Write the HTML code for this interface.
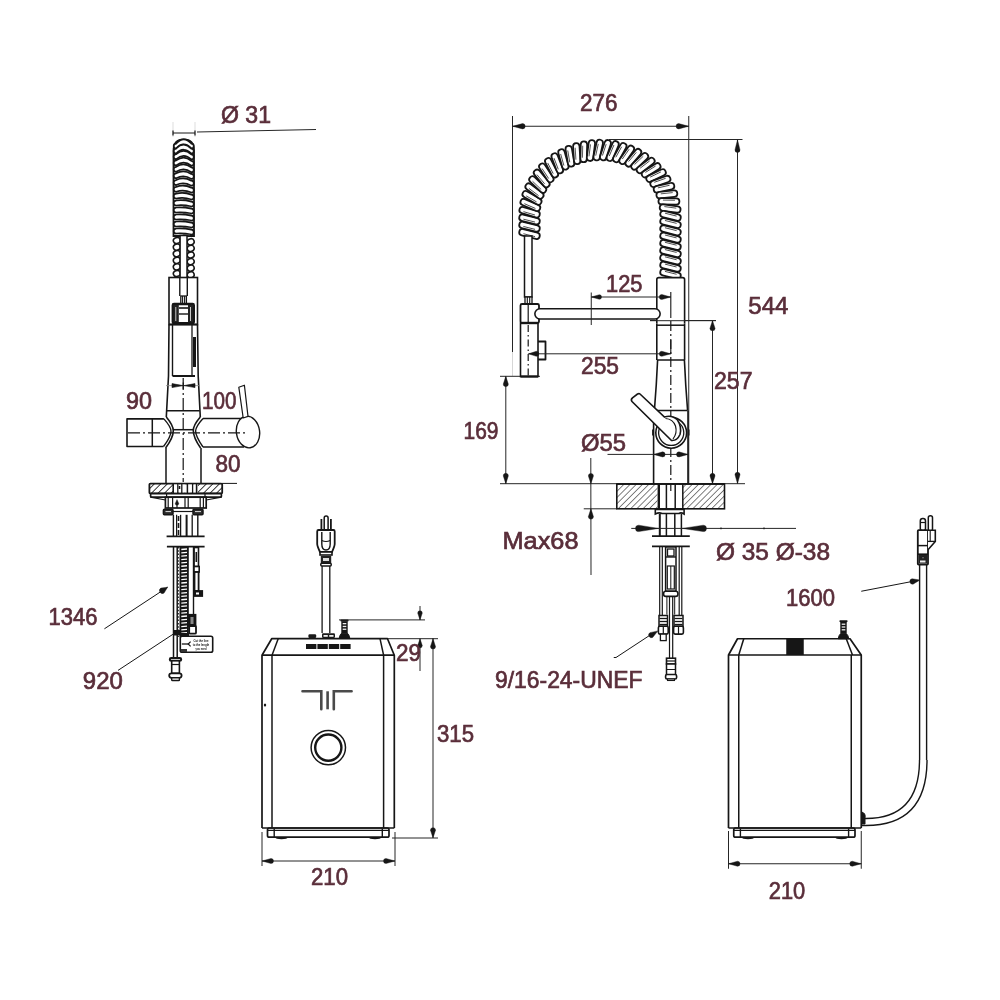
<!DOCTYPE html>
<html><head><meta charset="utf-8"><style>
html,body{margin:0;padding:0;background:#fff;width:1000px;height:1000px;overflow:hidden}
svg{display:block;will-change:transform}
text{font-family:"Liberation Sans",sans-serif}
</style></head><body>
<svg width="1000" height="1000" viewBox="0 0 1000 1000">
<rect width="1000" height="1000" fill="#fff"/>
<line x1="173" y1="122" x2="173" y2="137" stroke="#bbb" stroke-width="0.5" />
<line x1="195" y1="122" x2="195" y2="137" stroke="#bbb" stroke-width="0.5" />
<line x1="173" y1="133" x2="195" y2="133" stroke="#161616" stroke-width="1.0" />
<line x1="173" y1="130.5" x2="173" y2="135.5" stroke="#161616" stroke-width="1.2" />
<line x1="195" y1="130.5" x2="195" y2="135.5" stroke="#161616" stroke-width="1.2" />
<line x1="197" y1="132" x2="316" y2="129.5" stroke="#262626" stroke-width="1.0" />
<text x="221" y="123" font-size="24.5" fill="#5a2e3a" stroke="#5a2e3a" stroke-width="0.7" text-anchor="start" textLength="50" lengthAdjust="spacingAndGlyphs">Ø 31</text>
<path d="M173.5,236 L173.5,151 Q173.5,139.5 183.75,139.5 Q194,139.5 194,151 L194,236 Z" stroke="#161616" stroke-width="1.8" fill="#fff" />
<path d="M174.5,150 Q174.5,140.5 183.75,140.5 Q193,140.5 193,150" stroke="#161616" stroke-width="2.6" fill="none" />
<path d="M176.20,143.50 Q183.75,135.10 191.30,143.50 A2.5,2.5 0 0 1 191.30,148.50 Q183.75,140.10 176.20,148.50 A2.5,2.5 0 0 1 176.20,143.50 Z" stroke="#161616" stroke-width="1.75" fill="#fff" />
<path d="M176.20,148.50 Q183.75,140.94 191.30,148.62 A2.5,2.5 0 0 1 191.30,153.62 Q183.75,145.94 176.20,153.50 A2.5,2.5 0 0 1 176.20,148.50 Z" stroke="#161616" stroke-width="1.75" fill="#fff" />
<path d="M176.20,154.20 Q183.75,147.48 191.30,154.44 A2.5,2.5 0 0 1 191.30,159.44 Q183.75,152.48 176.20,159.20 A2.5,2.5 0 0 1 176.20,154.20 Z" stroke="#161616" stroke-width="1.75" fill="#fff" />
<path d="M176.20,160.40 Q183.75,154.52 191.30,160.76 A2.5,2.5 0 0 1 191.30,165.76 Q183.75,159.52 176.20,165.40 A2.5,2.5 0 0 1 176.20,160.40 Z" stroke="#161616" stroke-width="1.75" fill="#fff" />
<path d="M176.20,166.80 Q183.75,161.76 191.30,167.28 A2.5,2.5 0 0 1 191.30,172.28 Q183.75,166.76 176.20,171.80 A2.5,2.5 0 0 1 176.20,166.80 Z" stroke="#161616" stroke-width="1.75" fill="#fff" />
<path d="M176.20,173.30 Q183.75,169.10 191.30,173.90 A2.5,2.5 0 0 1 191.30,178.90 Q183.75,174.10 176.20,178.30 A2.5,2.5 0 0 1 176.20,173.30 Z" stroke="#161616" stroke-width="1.75" fill="#fff" />
<line x1="182.75" y1="178.04" x2="190" y2="179.27" stroke="#555" stroke-width="1.0" />
<path d="M176.20,180.00 Q183.75,176.64 191.30,180.72 A2.5,2.5 0 0 1 191.30,185.72 Q183.75,181.64 176.20,185.00 A2.5,2.5 0 0 1 176.20,180.00 Z" stroke="#161616" stroke-width="1.75" fill="#fff" />
<line x1="182.75" y1="184.99" x2="190" y2="186.1" stroke="#555" stroke-width="1.0" />
<path d="M176.20,186.80 Q183.75,184.28 191.30,187.64 A2.5,2.5 0 0 1 191.30,192.64 Q183.75,189.28 176.20,191.80 A2.5,2.5 0 0 1 176.20,186.80 Z" stroke="#161616" stroke-width="1.75" fill="#fff" />
<line x1="182.75" y1="192.04" x2="190" y2="193.02" stroke="#555" stroke-width="1.0" />
<path d="M176.20,193.60 Q183.75,191.92 191.30,194.56 A2.5,2.5 0 0 1 191.30,199.56 Q183.75,196.92 176.20,198.60 A2.5,2.5 0 0 1 176.20,193.60 Z" stroke="#161616" stroke-width="1.75" fill="#fff" />
<line x1="182.75" y1="199.1" x2="190" y2="199.95" stroke="#555" stroke-width="1.0" />
<path d="M176.20,200.50 Q183.75,199.66 191.30,201.58 A2.5,2.5 0 0 1 191.30,206.58 Q183.75,204.66 176.20,205.50 A2.5,2.5 0 0 1 176.20,200.50 Z" stroke="#161616" stroke-width="1.75" fill="#fff" />
<line x1="182.75" y1="206.25" x2="190" y2="206.97" stroke="#555" stroke-width="1.0" />
<path d="M176.20,207.50 Q183.75,206.90 191.30,208.70 A2.5,2.5 0 0 1 191.30,213.70 Q183.75,211.90 176.20,212.50 A2.5,2.5 0 0 1 176.20,207.50 Z" stroke="#161616" stroke-width="1.75" fill="#fff" />
<line x1="182.75" y1="213.32" x2="190" y2="214.01" stroke="#555" stroke-width="1.0" />
<path d="M176.20,214.50 Q183.75,213.90 191.30,215.70 A2.5,2.5 0 0 1 191.30,220.70 Q183.75,218.90 176.20,219.50 A2.5,2.5 0 0 1 176.20,214.50 Z" stroke="#161616" stroke-width="1.75" fill="#fff" />
<line x1="182.75" y1="220.32" x2="190" y2="221.01" stroke="#555" stroke-width="1.0" />
<path d="M176.20,221.50 Q183.75,220.90 191.30,222.70 A2.5,2.5 0 0 1 191.30,227.70 Q183.75,225.90 176.20,226.50 A2.5,2.5 0 0 1 176.20,221.50 Z" stroke="#161616" stroke-width="1.75" fill="#fff" />
<line x1="182.75" y1="227.32" x2="190" y2="228.01" stroke="#555" stroke-width="1.0" />
<path d="M176.20,228.50 Q183.75,227.90 191.30,229.70 A2.5,2.5 0 0 1 191.30,234.70 Q183.75,232.90 176.20,233.50 A2.5,2.5 0 0 1 176.20,228.50 Z" stroke="#161616" stroke-width="1.75" fill="#fff" />
<line x1="182.75" y1="234.32" x2="190" y2="235.01" stroke="#555" stroke-width="1.0" />
<ellipse cx="176.8" cy="240.5" rx="3.5" ry="3" stroke="#161616" stroke-width="1.6" fill="#fff" transform="rotate(-18 176.8 240.5)"/>
<ellipse cx="176.8" cy="247.1" rx="3.5" ry="3" stroke="#161616" stroke-width="1.6" fill="#fff" transform="rotate(-18 176.8 247.1)"/>
<ellipse cx="176.8" cy="253.7" rx="3.5" ry="3" stroke="#161616" stroke-width="1.6" fill="#fff" transform="rotate(-18 176.8 253.7)"/>
<ellipse cx="176.8" cy="260.3" rx="3.5" ry="3" stroke="#161616" stroke-width="1.6" fill="#fff" transform="rotate(-18 176.8 260.3)"/>
<ellipse cx="176.8" cy="266.9" rx="3.5" ry="3" stroke="#161616" stroke-width="1.6" fill="#fff" transform="rotate(-18 176.8 266.9)"/>
<ellipse cx="176.8" cy="273.5" rx="3.5" ry="3" stroke="#161616" stroke-width="1.6" fill="#fff" transform="rotate(-18 176.8 273.5)"/>
<ellipse cx="190.7" cy="241.8" rx="3.5" ry="3" stroke="#161616" stroke-width="1.6" fill="#fff" transform="rotate(-18 190.7 241.8)"/>
<ellipse cx="190.7" cy="248.4" rx="3.5" ry="3" stroke="#161616" stroke-width="1.6" fill="#fff" transform="rotate(-18 190.7 248.4)"/>
<ellipse cx="190.7" cy="255" rx="3.5" ry="3" stroke="#161616" stroke-width="1.6" fill="#fff" transform="rotate(-18 190.7 255)"/>
<ellipse cx="190.7" cy="261.6" rx="3.5" ry="3" stroke="#161616" stroke-width="1.6" fill="#fff" transform="rotate(-18 190.7 261.6)"/>
<ellipse cx="190.7" cy="268.2" rx="3.5" ry="3" stroke="#161616" stroke-width="1.6" fill="#fff" transform="rotate(-18 190.7 268.2)"/>
<ellipse cx="190.7" cy="274.8" rx="3.5" ry="3" stroke="#161616" stroke-width="1.6" fill="#fff" transform="rotate(-18 190.7 274.8)"/>
<rect x="180.1" y="235.5" width="6.9" height="60.5" rx="0" stroke="#161616" stroke-width="1.5" fill="#fff" />
<rect x="169" y="277.5" width="28.5" height="47" rx="0" stroke="#161616" stroke-width="1.6" fill="#fff" />
<line x1="179.8" y1="277" x2="179.8" y2="296" stroke="#161616" stroke-width="1.4" />
<line x1="187.3" y1="277" x2="187.3" y2="296" stroke="#161616" stroke-width="1.4" />
<rect x="180.8" y="296" width="5.6" height="8" rx="0" stroke="#161616" stroke-width="1.3" fill="#fff" />
<line x1="182.6" y1="296" x2="182.6" y2="304" stroke="#161616" stroke-width="1.1" />
<line x1="184.6" y1="296" x2="184.6" y2="304" stroke="#161616" stroke-width="1.1" />
<rect x="172.8" y="304" width="21" height="19.2" rx="1.2" stroke="#161616" stroke-width="2.4" fill="#fff" />
<rect x="173.5" y="305" width="5.3" height="17.5" fill="#222"/>
<rect x="188" y="305" width="5" height="17.5" fill="#222"/>
<line x1="175.8" y1="307" x2="175.8" y2="321" stroke="#ddd" stroke-width="0.9" />
<line x1="190.5" y1="307" x2="190.5" y2="321" stroke="#ddd" stroke-width="0.9" />
<line x1="179" y1="308" x2="188" y2="308" stroke="#161616" stroke-width="1.6" />
<line x1="179" y1="314" x2="188" y2="314" stroke="#161616" stroke-width="1.4" />
<line x1="172.8" y1="323.6" x2="193.8" y2="323.6" stroke="#161616" stroke-width="2.6" />
<polyline points="169,324.5 168.5,376 166.3,417" stroke="#161616" stroke-width="1.6" fill="none" stroke-linejoin="round" />
<polyline points="197.5,324.5 198.2,376 200.3,417" stroke="#161616" stroke-width="1.6" fill="none" stroke-linejoin="round" />
<line x1="169" y1="324.5" x2="197.5" y2="324.5" stroke="#161616" stroke-width="1.8" />
<line x1="172.5" y1="325" x2="172.5" y2="376" stroke="#161616" stroke-width="1.4" />
<line x1="192" y1="325" x2="192" y2="376" stroke="#161616" stroke-width="1.3" />
<line x1="172.5" y1="376" x2="195" y2="376" stroke="#161616" stroke-width="2.0" />
<rect x="193" y="337" width="3" height="30" fill="#161616"/>
<line x1="166" y1="385.6" x2="200" y2="385.6" stroke="#888" stroke-width="0.8" />
<polygon points="172,383.6 172,387.6 183,385.6" stroke="#161616" stroke-width="0.6" fill="#161616" stroke-linejoin="round" />
<polygon points="195,383.6 195,387.6 184,385.6" stroke="#161616" stroke-width="0.6" fill="#161616" stroke-linejoin="round" />
<line x1="183.3" y1="382.5" x2="183.3" y2="389" stroke="#161616" stroke-width="1.2" />
<line x1="166.7" y1="410.8" x2="199.7" y2="410.8" stroke="#161616" stroke-width="1.4" />
<text x="126" y="409" font-size="24.5" fill="#5a2e3a" stroke="#5a2e3a" stroke-width="0.7" text-anchor="start" textLength="26" lengthAdjust="spacingAndGlyphs">90</text>
<text x="202" y="409" font-size="24.5" fill="#5a2e3a" stroke="#5a2e3a" stroke-width="0.7" text-anchor="start" textLength="34.5" lengthAdjust="spacingAndGlyphs">100</text>
<text x="215.5" y="471.5" font-size="24.5" fill="#5a2e3a" stroke="#5a2e3a" stroke-width="0.7" text-anchor="start" textLength="25" lengthAdjust="spacingAndGlyphs">80</text>
<polyline points="163.9,418.9 127,418.9 127,446.5 163.5,446.5" stroke="#161616" stroke-width="1.6" fill="none" stroke-linejoin="round" />
<line x1="152.3" y1="418.9" x2="152.3" y2="446.5" stroke="#161616" stroke-width="1.5" />
<path d="M166.3,417 C170.5,422 173.3,427 173.3,430.8 C173.3,435 170.5,441.5 165.6,448" stroke="#161616" stroke-width="1.6" fill="none" />
<path d="M163.9,418.9 C168,423.5 171,428 171,431.2 C171,435 168,440.5 163.5,446.5" stroke="#161616" stroke-width="1.4" fill="none" />
<path d="M200.3,417 C196,422 193.3,427 193.3,430.5 C193.3,435 196,441.5 200.6,448" stroke="#161616" stroke-width="1.6" fill="none" />
<path d="M203,418.5 C198.5,423.5 195.6,428 195.6,431 C195.6,435 198.5,440.5 203,447" stroke="#161616" stroke-width="1.4" fill="none" />
<line x1="173" y1="429.7" x2="193.3" y2="429.7" stroke="#161616" stroke-width="1.5" />
<line x1="203" y1="418.5" x2="244" y2="418.5" stroke="#161616" stroke-width="1.5" />
<line x1="203" y1="446.9" x2="244" y2="446.9" stroke="#161616" stroke-width="1.5" />
<ellipse cx="248" cy="432" rx="11.6" ry="15.9" stroke="#161616" stroke-width="1.4" fill="#fff" transform="rotate(-8 248 432)"/>
<polygon points="238.8,387.2 244.4,385.2 248,416.4 243.2,418" stroke="#161616" stroke-width="1.2" fill="#fff" stroke-linejoin="round" />
<line x1="166" y1="448" x2="166" y2="483" stroke="#161616" stroke-width="1.5" />
<line x1="201" y1="448" x2="201" y2="483" stroke="#161616" stroke-width="1.5" />
<line x1="183.2" y1="378" x2="183.2" y2="482" stroke="#161616" stroke-width="1.2" stroke-dasharray="12 3 2 3"/>
<line x1="128" y1="432.8" x2="246" y2="432.8" stroke="#161616" stroke-width="1.2" stroke-dasharray="12 3 2 3"/>
<defs><pattern id="hatchL" width="4.6" height="4.6" patternUnits="userSpaceOnUse" patternTransform="rotate(45)"><line x1="0" y1="0" x2="0" y2="4.6" stroke="#161616" stroke-width="1.7"/></pattern><pattern id="hatchR" width="4.4" height="4.4" patternUnits="userSpaceOnUse" patternTransform="rotate(45)"><line x1="0" y1="0" x2="0" y2="4.4" stroke="#222" stroke-width="1.15"/></pattern></defs>
<rect x="149.4" y="483.6" width="72.8" height="9.8" rx="1" stroke="#161616" stroke-width="1.8" fill="url(#hatchL)" />
<rect x="173" y="484.6" width="25" height="8" fill="#fff"/>
<line x1="173.2" y1="484" x2="173.2" y2="493" stroke="#161616" stroke-width="1.6" />
<line x1="177.8" y1="484" x2="177.8" y2="493" stroke="#161616" stroke-width="1.3" />
<line x1="181.8" y1="484" x2="181.8" y2="493" stroke="#161616" stroke-width="1.3" />
<line x1="187.4" y1="484" x2="187.4" y2="493" stroke="#161616" stroke-width="1.5" />
<line x1="192.6" y1="484" x2="192.6" y2="493" stroke="#161616" stroke-width="1.3" />
<line x1="196.6" y1="484" x2="196.6" y2="493" stroke="#161616" stroke-width="1.6" />
<line x1="179.5" y1="486" x2="179.5" y2="489" stroke="#161616" stroke-width="1.6" />
<line x1="222" y1="483.4" x2="237" y2="483.4" stroke="#161616" stroke-width="1.0" />
<rect x="150.6" y="493.6" width="70.8" height="3.6" rx="1" stroke="#161616" stroke-width="1.7" fill="#fff" />
<line x1="166.6" y1="493.6" x2="166.6" y2="497.2" stroke="#161616" stroke-width="1.2" />
<line x1="205" y1="493.6" x2="205" y2="497.2" stroke="#161616" stroke-width="1.2" />
<polyline points="150.6,497.2 165.4,500" stroke="#161616" stroke-width="1.2" fill="none" stroke-linejoin="round" />
<polyline points="221.4,497.2 206.2,500" stroke="#161616" stroke-width="1.2" fill="none" stroke-linejoin="round" />
<rect x="165.4" y="497.2" width="40.8" height="10.8" rx="0" stroke="#161616" stroke-width="1.7" fill="#fff" />
<line x1="168.2" y1="497.5" x2="168.2" y2="508" stroke="#161616" stroke-width="1.2" />
<line x1="172.6" y1="497.5" x2="172.6" y2="508" stroke="#161616" stroke-width="1.2" />
<line x1="185" y1="497.5" x2="185" y2="508" stroke="#161616" stroke-width="1.2" />
<line x1="188.2" y1="497.5" x2="188.2" y2="508" stroke="#161616" stroke-width="1.2" />
<line x1="200.2" y1="497.5" x2="200.2" y2="508" stroke="#161616" stroke-width="1.2" />
<line x1="203.4" y1="497.5" x2="203.4" y2="508" stroke="#161616" stroke-width="1.2" />
<path d="M177,499.5 L178.72,503.52 A1.72,1.72 0 0 1 175.28,503.52 Z" fill="#161616" stroke="#161616" stroke-width="0.4"/>
<line x1="177" y1="504" x2="177" y2="508" stroke="#161616" stroke-width="1.2" />
<rect x="163.4" y="509.2" width="9.6" height="5.6" rx="1" stroke="#161616" stroke-width="1.5" fill="#2a2a2a" />
<rect x="193" y="509.2" width="10" height="5.6" rx="1" stroke="#161616" stroke-width="1.5" fill="#2a2a2a" />
<line x1="165.5" y1="511.6" x2="171" y2="511.6" stroke="#ddd" stroke-width="1.0" />
<line x1="195" y1="511.6" x2="201" y2="511.6" stroke="#ddd" stroke-width="1.0" />
<line x1="173" y1="511.5" x2="193" y2="511.5" stroke="#161616" stroke-width="1.2" />
<line x1="173.4" y1="514.8" x2="173.4" y2="536.4" stroke="#161616" stroke-width="1.4" />
<line x1="176.6" y1="514.8" x2="176.6" y2="536.4" stroke="#161616" stroke-width="1.2" />
<line x1="180.6" y1="514.8" x2="180.6" y2="536.4" stroke="#161616" stroke-width="1.3" />
<line x1="186.6" y1="514.8" x2="186.6" y2="536.4" stroke="#161616" stroke-width="2.0" />
<line x1="192.2" y1="514.8" x2="192.2" y2="536.4" stroke="#161616" stroke-width="1.3" />
<line x1="197.8" y1="514.8" x2="197.8" y2="536.4" stroke="#161616" stroke-width="1.4" />
<line x1="178.5" y1="516" x2="178.5" y2="536" stroke="#161616" stroke-width="1.6" stroke-dasharray="5 2"/>
<line x1="166.6" y1="536.4" x2="204.6" y2="536.4" stroke="#161616" stroke-width="1.8" />
<line x1="166.9" y1="546.7" x2="204.6" y2="546.7" stroke="#161616" stroke-width="1.8" />
<line x1="173.5" y1="547" x2="173.5" y2="658" stroke="#161616" stroke-width="1.5" />
<line x1="177.2" y1="547" x2="177.2" y2="658" stroke="#161616" stroke-width="1.5" />
<rect x="179.5" y="547" width="9.3" height="90.3" fill="#161616"/>
<line x1="181.3" y1="549.5" x2="187" y2="549" stroke="#fff" stroke-width="1.3" />
<line x1="181.3" y1="552.85" x2="187" y2="552.35" stroke="#fff" stroke-width="1.3" />
<line x1="181.3" y1="556.2" x2="187" y2="555.7" stroke="#fff" stroke-width="1.3" />
<line x1="181.3" y1="559.55" x2="187" y2="559.05" stroke="#fff" stroke-width="1.3" />
<line x1="181.3" y1="562.9" x2="187" y2="562.4" stroke="#fff" stroke-width="1.3" />
<line x1="181.3" y1="566.25" x2="187" y2="565.75" stroke="#fff" stroke-width="1.3" />
<line x1="181.3" y1="569.6" x2="187" y2="569.1" stroke="#fff" stroke-width="1.3" />
<line x1="181.3" y1="572.95" x2="187" y2="572.45" stroke="#fff" stroke-width="1.3" />
<line x1="181.3" y1="576.3" x2="187" y2="575.8" stroke="#fff" stroke-width="1.3" />
<line x1="181.3" y1="579.65" x2="187" y2="579.15" stroke="#fff" stroke-width="1.3" />
<line x1="181.3" y1="583" x2="187" y2="582.5" stroke="#fff" stroke-width="1.3" />
<line x1="181.3" y1="586.35" x2="187" y2="585.85" stroke="#fff" stroke-width="1.3" />
<line x1="181.3" y1="589.7" x2="187" y2="589.2" stroke="#fff" stroke-width="1.3" />
<line x1="181.3" y1="593.05" x2="187" y2="592.55" stroke="#fff" stroke-width="1.3" />
<line x1="181.3" y1="596.4" x2="187" y2="595.9" stroke="#fff" stroke-width="1.3" />
<line x1="181.3" y1="599.75" x2="187" y2="599.25" stroke="#fff" stroke-width="1.3" />
<line x1="181.3" y1="603.1" x2="187" y2="602.6" stroke="#fff" stroke-width="1.3" />
<line x1="181.3" y1="606.45" x2="187" y2="605.95" stroke="#fff" stroke-width="1.3" />
<line x1="181.3" y1="609.8" x2="187" y2="609.3" stroke="#fff" stroke-width="1.3" />
<line x1="181.3" y1="613.15" x2="187" y2="612.65" stroke="#fff" stroke-width="1.3" />
<line x1="181.3" y1="616.5" x2="187" y2="616" stroke="#fff" stroke-width="1.3" />
<line x1="181.3" y1="619.85" x2="187" y2="619.35" stroke="#fff" stroke-width="1.3" />
<line x1="181.3" y1="623.2" x2="187" y2="622.7" stroke="#fff" stroke-width="1.3" />
<line x1="181.3" y1="626.55" x2="187" y2="626.05" stroke="#fff" stroke-width="1.3" />
<line x1="181.3" y1="629.9" x2="187" y2="629.4" stroke="#fff" stroke-width="1.3" />
<line x1="181.3" y1="633.25" x2="187" y2="632.75" stroke="#fff" stroke-width="1.3" />
<line x1="178.3" y1="547" x2="178.3" y2="637" stroke="#161616" stroke-width="1.1" stroke-dasharray="1.5 1.8"/>
<line x1="193.5" y1="547" x2="193.5" y2="615" stroke="#161616" stroke-width="1.4" />
<rect x="194.1" y="547.5" width="4.4" height="19" rx="0" stroke="#161616" stroke-width="1.6" fill="#fff" />
<line x1="196.3" y1="552" x2="196.3" y2="562" stroke="#161616" stroke-width="1.6" />
<rect x="194" y="566.5" width="5.2" height="5.5" rx="0" stroke="#161616" stroke-width="1.6" fill="#fff" />
<rect x="194.5" y="572" width="4.1" height="19" rx="0" stroke="#161616" stroke-width="1.8" fill="#fff" />
<rect x="194" y="591" width="8.2" height="5" rx="0" stroke="#161616" stroke-width="1.8" fill="#161616" />
<rect x="196" y="592.5" width="3" height="2" fill="#fff"/>
<rect x="188.8" y="614.8" width="6.7" height="11.2" rx="0" stroke="#161616" stroke-width="1.8" fill="#161616" />
<rect x="190.5" y="617" width="3" height="7" fill="#888"/>
<rect x="189.2" y="626" width="6.8" height="7.7" rx="1" stroke="#161616" stroke-width="1.8" fill="#fff" />
<rect x="173.5" y="630" width="6.5" height="5.5" fill="#161616"/>
<rect x="180" y="633" width="9" height="4.3" fill="#161616"/>
<rect x="180.3" y="636.2" width="32.4" height="16" rx="1.8" stroke="#161616" stroke-width="1.6" fill="#fff" />
<text x="201" y="641.6" font-size="4" font-weight="bold" fill="#111" text-anchor="middle" textLength="15" lengthAdjust="spacingAndGlyphs">Cut the line</text>
<text x="201" y="646.0" font-size="4" font-weight="bold" fill="#111" text-anchor="middle" textLength="16.5" lengthAdjust="spacingAndGlyphs">to the length</text>
<text x="201" y="650.4" font-size="4" font-weight="bold" fill="#111" text-anchor="middle" textLength="11" lengthAdjust="spacingAndGlyphs">you need</text>
<line x1="181.8" y1="644" x2="189" y2="644" stroke="#161616" stroke-width="1.3" />
<path d="M190.6,641.6 L188.2,644 L190.6,646.4" stroke="#161616" stroke-width="1.2" fill="none" />
<rect x="180.8" y="649" width="6.2" height="3" fill="#333"/>
<rect x="169.8" y="658" width="11.4" height="2.8" rx="1.4" stroke="#161616" stroke-width="2.0" fill="#fff" />
<rect x="171.7" y="660.8" width="7.7" height="12.5" rx="0" stroke="#161616" stroke-width="1.6" fill="#fff" />
<line x1="171.7" y1="664.5" x2="179.4" y2="664.5" stroke="#161616" stroke-width="1.2" />
<rect x="169.2" y="673.3" width="12.4" height="4.5" rx="2.2" stroke="#161616" stroke-width="1.8" fill="#fff" />
<rect x="171.7" y="677.8" width="7.7" height="2.7" rx="0.8" stroke="#161616" stroke-width="1.4" fill="#fff" />
<line x1="104.4" y1="628.8" x2="167.6" y2="587.2" stroke="#161616" stroke-width="1.0" />
<path d="M167.6,587.2 L164.06,593.11 A2.99,2.99 0 0 1 160.77,588.12 Z" fill="#161616" stroke="#161616" stroke-width="0.4"/>
<line x1="118" y1="670.4" x2="174" y2="633.6" stroke="#161616" stroke-width="1.0" />
<text x="48.4" y="625" font-size="24.5" fill="#5a2e3a" stroke="#5a2e3a" stroke-width="0.7" text-anchor="start" textLength="49" lengthAdjust="spacingAndGlyphs">1346</text>
<text x="82.8" y="689" font-size="24.5" fill="#5a2e3a" stroke="#5a2e3a" stroke-width="0.7" text-anchor="start" textLength="40" lengthAdjust="spacingAndGlyphs">920</text>
<polyline points="262,828 262,655.2 271.7,638.7 387.5,638.7 394.3,655.2 394.3,828" stroke="#161616" stroke-width="1.7" fill="none" stroke-linejoin="round" />
<line x1="262" y1="655.2" x2="394.3" y2="655.2" stroke="#161616" stroke-width="1.7" />
<line x1="278.2" y1="638.7" x2="272" y2="655.2" stroke="#161616" stroke-width="1.5" />
<line x1="380" y1="638.7" x2="383.6" y2="655.2" stroke="#161616" stroke-width="1.5" />
<line x1="272" y1="655.2" x2="272" y2="828" stroke="#161616" stroke-width="1.5" />
<line x1="383.6" y1="655.2" x2="383.6" y2="828" stroke="#161616" stroke-width="1.5" />
<ellipse cx="281.5" cy="837.6" rx="6.5" ry="1.6" stroke="#161616" stroke-width="0" fill="#161616"/>
<ellipse cx="375" cy="837.6" rx="6.5" ry="1.6" stroke="#161616" stroke-width="0" fill="#161616"/>
<rect x="267.5" y="828" width="121.5" height="9.2" rx="1.8" stroke="#161616" stroke-width="1.7" fill="#fff" />
<line x1="262" y1="828" x2="394.3" y2="828" stroke="#161616" stroke-width="1.7" />
<line x1="267.5" y1="830.3" x2="389" y2="830.3" stroke="#161616" stroke-width="1.2" />
<line x1="274.2" y1="828.5" x2="274.2" y2="837" stroke="#161616" stroke-width="1.4" />
<line x1="382.3" y1="828.5" x2="382.3" y2="837" stroke="#161616" stroke-width="1.4" />
<ellipse cx="265" cy="705" rx="1.2" ry="1.5" stroke="#161616" stroke-width="0" fill="#161616"/>
<rect x="306" y="644" width="10.4" height="5" fill="#161616"/>
<rect x="317.4" y="644" width="10.4" height="5" fill="#161616"/>
<rect x="328.8" y="644" width="10.4" height="5" fill="#161616"/>
<rect x="340.2" y="644" width="10.4" height="5" fill="#161616"/>
<path d="M302.5,691.3 L321.3,691.3 L321.3,709.3" stroke="#4a4a4a" stroke-width="2.6" fill="none" stroke-linecap="round" stroke-linejoin="miter"/>
<line x1="327.6" y1="691.3" x2="327.6" y2="709.3" stroke="#4a4a4a" stroke-width="2.6" />
<path d="M351.6,691.3 L333.8,691.3 L333.8,709.3" stroke="#4a4a4a" stroke-width="2.6" fill="none" stroke-linecap="round" stroke-linejoin="miter"/>
<circle cx="328.3" cy="747.6" r="17.2" stroke="#161616" stroke-width="1.5" fill="none"/>
<circle cx="328.3" cy="747.6" r="13.1" stroke="#161616" stroke-width="2.4" fill="none"/>
<line x1="322.1" y1="566" x2="322.1" y2="633" stroke="#161616" stroke-width="1.3" />
<line x1="329.8" y1="566" x2="329.8" y2="633" stroke="#161616" stroke-width="1.3" />
<rect x="322" y="633.2" width="13" height="4.8" rx="1.2" stroke="#161616" stroke-width="0" fill="#1a1a1a" />
<rect x="323.5" y="635" width="4.3" height="1.8" fill="#eee"/>
<rect x="329.2" y="635" width="4.3" height="1.8" fill="#eee"/>
<rect x="308.4" y="634.3" width="7.8" height="3.7" rx="1.2" stroke="#161616" stroke-width="0" fill="#1a1a1a" />
<line x1="321.4" y1="519" x2="321.4" y2="530.5" stroke="#161616" stroke-width="1.8" />
<line x1="330.9" y1="519" x2="330.9" y2="530.5" stroke="#161616" stroke-width="1.8" />
<rect x="324.2" y="516" width="3.9" height="14.5" rx="1.9" stroke="#161616" stroke-width="1.5" fill="#fff" />
<path d="M318.5,530 L333.5,530 Q334.7,530 334.7,531.5 L334.7,544 Q334.7,546 332,552 L320,552 Q317.2,546 317.2,544 L317.2,531.5 Q317.2,530 318.5,530 Z" stroke="#161616" stroke-width="1.8" fill="#fff" />
<path d="M321.8,532 L321.8,544 Q321.8,550 326,550 Q330.2,550 330.2,544 L330.2,532" stroke="#161616" stroke-width="1.4" fill="none" />
<path d="M321.8,540.5 Q326,542.5 330.2,540.5" stroke="#161616" stroke-width="1.2" fill="none" />
<rect x="320" y="552" width="12" height="3" rx="0" stroke="#161616" stroke-width="1.6" fill="#fff" />
<rect x="320.8" y="556" width="10.4" height="7.2" fill="#222"/>
<rect x="323" y="558" width="6" height="3" fill="#ddd"/>
<rect x="320.8" y="563.2" width="10.4" height="2.8" rx="1" stroke="#161616" stroke-width="1.5" fill="#fff" />
<path d="M339.2,638.2 Q340.0,634.0 341.7,633.2 L347.3,633.2 Q349.0,634.0 349.8,638.2 Z" stroke="#161616" stroke-width="1.0" fill="#161616" />
<rect x="341.3" y="621.2" width="6.4" height="12" rx="0" stroke="#161616" stroke-width="0" fill="#161616" />
<rect x="342.7" y="623" width="3.6" height="1.3" fill="#eee"/>
<rect x="342.7" y="625.8" width="3.6" height="1.3" fill="#eee"/>
<rect x="342.7" y="628.6" width="3.6" height="1.3" fill="#eee"/>
<rect x="340.4" y="619.6" width="8.2" height="2" rx="0.8" stroke="#161616" stroke-width="0" fill="#161616" />
<line x1="339" y1="619.9" x2="425" y2="619.9" stroke="#262626" stroke-width="1.0" />
<line x1="388" y1="638.7" x2="438" y2="638.7" stroke="#262626" stroke-width="1.0" />
<line x1="420" y1="606" x2="420" y2="620" stroke="#262626" stroke-width="1.0" />
<path d="M420,620 L417.7,613.1 A2.3,2.3 0 0 1 422.3,613.1 Z" fill="#161616" stroke="#161616" stroke-width="0.4"/>
<line x1="420" y1="638.7" x2="420" y2="671" stroke="#262626" stroke-width="1.0" />
<path d="M420,638.7 L422.3,645.6 A2.3,2.3 0 0 1 417.7,645.6 Z" fill="#161616" stroke="#161616" stroke-width="0.4"/>
<text x="396" y="661" font-size="24.5" fill="#5a2e3a" stroke="#5a2e3a" stroke-width="0.7" text-anchor="start" textLength="25" lengthAdjust="spacingAndGlyphs">29</text>
<line x1="433" y1="638" x2="433" y2="838" stroke="#262626" stroke-width="1.0" />
<path d="M433,638.7 L435.53,646.52 A2.53,2.53 0 0 1 430.47,646.52 Z" fill="#161616" stroke="#161616" stroke-width="0.4"/>
<path d="M433,838 L430.47,830.18 A2.53,2.53 0 0 1 435.53,830.18 Z" fill="#161616" stroke="#161616" stroke-width="0.4"/>
<line x1="392" y1="838" x2="438" y2="838" stroke="#262626" stroke-width="1.0" />
<text x="437" y="742" font-size="24.5" fill="#5a2e3a" stroke="#5a2e3a" stroke-width="0.7" text-anchor="start" textLength="37" lengthAdjust="spacingAndGlyphs">315</text>
<line x1="262" y1="832" x2="262" y2="866" stroke="#262626" stroke-width="1.0" />
<line x1="395" y1="832" x2="395" y2="866" stroke="#262626" stroke-width="1.0" />
<line x1="262" y1="861" x2="395" y2="861" stroke="#262626" stroke-width="1.0" />
<path d="M262,861 L270.97,858.47 A2.53,2.53 0 0 1 270.97,863.53 Z" fill="#161616" stroke="#161616" stroke-width="0.4"/>
<path d="M395,861 L386.03,863.53 A2.53,2.53 0 0 1 386.03,858.47 Z" fill="#161616" stroke="#161616" stroke-width="0.4"/>
<text x="311" y="885" font-size="24.5" fill="#5a2e3a" stroke="#5a2e3a" stroke-width="0.7" text-anchor="start" textLength="37" lengthAdjust="spacingAndGlyphs">210</text>
<line x1="512.5" y1="116" x2="512.5" y2="352" stroke="#262626" stroke-width="1.0" />
<line x1="512.5" y1="352" x2="512.5" y2="376" stroke="#bbb" stroke-width="0.6" />
<line x1="688.75" y1="116" x2="688.75" y2="483.7" stroke="#262626" stroke-width="1.0" />
<line x1="512.5" y1="126.25" x2="688.75" y2="126.25" stroke="#262626" stroke-width="1.0" />
<path d="M512.5,126.25 L522.5,123.61 A2.64,2.64 0 0 1 522.5,128.9 Z" fill="#161616" stroke="#161616" stroke-width="0.4"/>
<path d="M688.75,126.25 L678.75,128.9 A2.64,2.64 0 0 1 678.75,123.61 Z" fill="#161616" stroke="#161616" stroke-width="0.4"/>
<text x="580" y="111" font-size="24.5" fill="#5a2e3a" stroke="#5a2e3a" stroke-width="0.7" text-anchor="start" textLength="37.5" lengthAdjust="spacingAndGlyphs">276</text>
<line x1="608.75" y1="139.5" x2="742.5" y2="139.5" stroke="#262626" stroke-width="1.0" />
<line x1="737.5" y1="139.5" x2="737.5" y2="483.7" stroke="#262626" stroke-width="1.0" />
<path d="M737.5,139.8 L740.03,149.92 A2.53,2.53 0 0 1 734.97,149.92 Z" fill="#161616" stroke="#161616" stroke-width="0.4"/>
<path d="M737.5,483.7 L734.97,474.73 A2.53,2.53 0 0 1 740.03,474.73 Z" fill="#161616" stroke="#161616" stroke-width="0.4"/>
<text x="748.3" y="314" font-size="24.5" fill="#5a2e3a" stroke="#5a2e3a" stroke-width="0.7" text-anchor="start" textLength="40" lengthAdjust="spacingAndGlyphs">544</text>
<line x1="650" y1="320.5" x2="716" y2="320.5" stroke="#262626" stroke-width="1.0" />
<line x1="712.5" y1="320.5" x2="712.5" y2="483.7" stroke="#262626" stroke-width="1.0" />
<path d="M712.5,320.5 L715.03,328.32 A2.53,2.53 0 0 1 709.97,328.32 Z" fill="#161616" stroke="#161616" stroke-width="0.4"/>
<path d="M712.5,483.7 L709.97,475.88 A2.53,2.53 0 0 1 715.03,475.88 Z" fill="#161616" stroke="#161616" stroke-width="0.4"/>
<text x="714" y="389" font-size="24.5" fill="#5a2e3a" stroke="#5a2e3a" stroke-width="0.7" text-anchor="start" textLength="38.5" lengthAdjust="spacingAndGlyphs">257</text>
<line x1="500" y1="483.7" x2="745" y2="483.7" stroke="#262626" stroke-width="1.0" />
<line x1="500" y1="376.3" x2="540" y2="376.3" stroke="#262626" stroke-width="1.0" />
<line x1="505.8" y1="376.3" x2="505.8" y2="483.7" stroke="#262626" stroke-width="1.0" />
<path d="M505.8,376.3 L508.33,384.12 A2.53,2.53 0 0 1 503.27,384.12 Z" fill="#161616" stroke="#161616" stroke-width="0.4"/>
<path d="M505.8,483.7 L503.27,475.88 A2.53,2.53 0 0 1 508.33,475.88 Z" fill="#161616" stroke="#161616" stroke-width="0.4"/>
<text x="463.5" y="439" font-size="24.5" fill="#5a2e3a" stroke="#5a2e3a" stroke-width="0.7" text-anchor="start" textLength="35" lengthAdjust="spacingAndGlyphs">169</text>
<rect x="519" y="230.8" width="21" height="6.4" rx="3.2" fill="#fff" stroke="#161616" stroke-width="1.75" transform="rotate(14 529.5 234)"/>
<line x1="523.5" y1="235.2" x2="535.5" y2="235.2" stroke="#161616" stroke-width="0.7" transform="rotate(14 529.5 234)"/>
<rect x="519" y="223.53" width="21" height="6.4" rx="3.2" fill="#fff" stroke="#161616" stroke-width="1.75" transform="rotate(14 529.5 226.73)"/>
<line x1="523.5" y1="227.93" x2="535.5" y2="227.93" stroke="#161616" stroke-width="0.7" transform="rotate(14 529.5 226.73)"/>
<rect x="519" y="216.25" width="21" height="6.4" rx="3.2" fill="#fff" stroke="#161616" stroke-width="1.75" transform="rotate(14 529.5 219.45)"/>
<line x1="523.5" y1="220.65" x2="535.5" y2="220.65" stroke="#161616" stroke-width="0.7" transform="rotate(14 529.5 219.45)"/>
<rect x="519.07" y="208.98" width="21" height="6.4" rx="3.2" fill="#fff" stroke="#161616" stroke-width="1.75" transform="rotate(16.45 529.57 212.18)"/>
<line x1="523.57" y1="213.38" x2="535.57" y2="213.38" stroke="#161616" stroke-width="0.7" transform="rotate(16.45 529.57 212.18)"/>
<rect x="519.85" y="201.75" width="21" height="6.4" rx="3.2" fill="#fff" stroke="#161616" stroke-width="1.75" transform="rotate(23.31 530.35 204.95)"/>
<line x1="524.35" y1="206.15" x2="536.35" y2="206.15" stroke="#161616" stroke-width="0.7" transform="rotate(23.31 530.35 204.95)"/>
<rect x="521.49" y="194.67" width="21" height="6.4" rx="3.2" fill="#fff" stroke="#161616" stroke-width="1.75" transform="rotate(30.12 531.99 197.87)"/>
<line x1="525.99" y1="199.07" x2="537.99" y2="199.07" stroke="#161616" stroke-width="0.7" transform="rotate(30.12 531.99 197.87)"/>
<rect x="523.97" y="187.84" width="21" height="6.4" rx="3.2" fill="#fff" stroke="#161616" stroke-width="1.75" transform="rotate(36.88 534.47 191.04)"/>
<line x1="528.47" y1="192.24" x2="540.47" y2="192.24" stroke="#161616" stroke-width="0.7" transform="rotate(36.88 534.47 191.04)"/>
<rect x="527.22" y="181.34" width="21" height="6.4" rx="3.2" fill="#fff" stroke="#161616" stroke-width="1.75" transform="rotate(43.54 537.72 184.54)"/>
<line x1="531.72" y1="185.74" x2="543.72" y2="185.74" stroke="#161616" stroke-width="0.7" transform="rotate(43.54 537.72 184.54)"/>
<rect x="531.2" y="175.26" width="21" height="6.4" rx="3.2" fill="#fff" stroke="#161616" stroke-width="1.75" transform="rotate(50.11 541.7 178.46)"/>
<line x1="535.7" y1="179.66" x2="547.7" y2="179.66" stroke="#161616" stroke-width="0.7" transform="rotate(50.11 541.7 178.46)"/>
<rect x="535.83" y="169.65" width="21" height="6.4" rx="3.2" fill="#fff" stroke="#161616" stroke-width="1.75" transform="rotate(56.56 546.33 172.85)"/>
<line x1="540.33" y1="174.05" x2="552.33" y2="174.05" stroke="#161616" stroke-width="0.7" transform="rotate(56.56 546.33 172.85)"/>
<rect x="541.05" y="164.59" width="21" height="6.4" rx="3.2" fill="#fff" stroke="#161616" stroke-width="1.75" transform="rotate(62.9 551.55 167.79)"/>
<line x1="545.55" y1="168.99" x2="557.55" y2="168.99" stroke="#161616" stroke-width="0.7" transform="rotate(62.9 551.55 167.79)"/>
<rect x="546.77" y="160.1" width="21" height="6.4" rx="3.2" fill="#fff" stroke="#161616" stroke-width="1.75" transform="rotate(69.13 557.27 163.3)"/>
<line x1="551.27" y1="164.5" x2="563.27" y2="164.5" stroke="#161616" stroke-width="0.7" transform="rotate(69.13 557.27 163.3)"/>
<rect x="552.92" y="156.23" width="21" height="6.4" rx="3.2" fill="#fff" stroke="#161616" stroke-width="1.75" transform="rotate(74.38 563.42 159.43)"/>
<line x1="557.42" y1="160.63" x2="569.42" y2="160.63" stroke="#161616" stroke-width="0.7" transform="rotate(74.38 563.42 159.43)"/>
<rect x="559.44" y="153.01" width="21" height="6.4" rx="3.2" fill="#fff" stroke="#161616" stroke-width="1.75" transform="rotate(80.43 569.94 156.21)"/>
<line x1="563.94" y1="157.41" x2="575.94" y2="157.41" stroke="#161616" stroke-width="0.7" transform="rotate(80.43 569.94 156.21)"/>
<rect x="566.24" y="150.44" width="21" height="6.4" rx="3.2" fill="#fff" stroke="#161616" stroke-width="1.75" transform="rotate(86.39 576.74 153.64)"/>
<line x1="570.74" y1="154.84" x2="582.74" y2="154.84" stroke="#161616" stroke-width="0.7" transform="rotate(86.39 576.74 153.64)"/>
<rect x="573.26" y="148.55" width="21" height="6.4" rx="3.2" fill="#fff" stroke="#161616" stroke-width="1.75" transform="rotate(91.46 583.76 151.75)"/>
<line x1="577.76" y1="152.95" x2="589.76" y2="152.95" stroke="#161616" stroke-width="0.7" transform="rotate(91.46 583.76 151.75)"/>
<rect x="580.43" y="147.34" width="21" height="6.4" rx="3.2" fill="#fff" stroke="#161616" stroke-width="1.75" transform="rotate(97.32 590.93 150.54)"/>
<line x1="584.93" y1="151.74" x2="596.93" y2="151.74" stroke="#161616" stroke-width="0.7" transform="rotate(97.32 590.93 150.54)"/>
<rect x="587.68" y="146.82" width="21" height="6.4" rx="3.2" fill="#fff" stroke="#161616" stroke-width="1.75" transform="rotate(102.33 598.18 150.02)"/>
<line x1="592.18" y1="151.22" x2="604.18" y2="151.22" stroke="#161616" stroke-width="0.7" transform="rotate(102.33 598.18 150.02)"/>
<rect x="594.95" y="147" width="21" height="6.4" rx="3.2" fill="#fff" stroke="#161616" stroke-width="1.75" transform="rotate(108.17 605.45 150.2)"/>
<line x1="599.45" y1="151.4" x2="611.45" y2="151.4" stroke="#161616" stroke-width="0.7" transform="rotate(108.17 605.45 150.2)"/>
<rect x="602.17" y="147.86" width="21" height="6.4" rx="3.2" fill="#fff" stroke="#161616" stroke-width="1.75" transform="rotate(113.19 612.67 151.06)"/>
<line x1="606.67" y1="152.26" x2="618.67" y2="152.26" stroke="#161616" stroke-width="0.7" transform="rotate(113.19 612.67 151.06)"/>
<rect x="609.27" y="149.41" width="21" height="6.4" rx="3.2" fill="#fff" stroke="#161616" stroke-width="1.75" transform="rotate(119.07 619.77 152.61)"/>
<line x1="613.77" y1="153.81" x2="625.77" y2="153.81" stroke="#161616" stroke-width="0.7" transform="rotate(119.07 619.77 152.61)"/>
<rect x="616.19" y="151.64" width="21" height="6.4" rx="3.2" fill="#fff" stroke="#161616" stroke-width="1.75" transform="rotate(125.01 626.69 154.84)"/>
<line x1="620.69" y1="156.04" x2="632.69" y2="156.04" stroke="#161616" stroke-width="0.7" transform="rotate(125.01 626.69 154.84)"/>
<rect x="622.86" y="154.54" width="21" height="6.4" rx="3.2" fill="#fff" stroke="#161616" stroke-width="1.75" transform="rotate(130.15 633.36 157.74)"/>
<line x1="627.36" y1="158.94" x2="639.36" y2="158.94" stroke="#161616" stroke-width="0.7" transform="rotate(130.15 633.36 157.74)"/>
<rect x="629.2" y="158.09" width="21" height="6.4" rx="3.2" fill="#fff" stroke="#161616" stroke-width="1.75" transform="rotate(136.24 639.7 161.29)"/>
<line x1="633.7" y1="162.49" x2="645.7" y2="162.49" stroke="#161616" stroke-width="0.7" transform="rotate(136.24 639.7 161.29)"/>
<rect x="635.15" y="162.27" width="21" height="6.4" rx="3.2" fill="#fff" stroke="#161616" stroke-width="1.75" transform="rotate(142.42 645.65 165.47)"/>
<line x1="639.65" y1="166.67" x2="651.65" y2="166.67" stroke="#161616" stroke-width="0.7" transform="rotate(142.42 645.65 165.47)"/>
<rect x="640.63" y="167.05" width="21" height="6.4" rx="3.2" fill="#fff" stroke="#161616" stroke-width="1.75" transform="rotate(147.8 651.13 170.25)"/>
<line x1="645.13" y1="171.45" x2="657.13" y2="171.45" stroke="#161616" stroke-width="0.7" transform="rotate(147.8 651.13 170.25)"/>
<rect x="645.56" y="172.39" width="21" height="6.4" rx="3.2" fill="#fff" stroke="#161616" stroke-width="1.75" transform="rotate(154.19 656.06 175.59)"/>
<line x1="650.06" y1="176.79" x2="662.06" y2="176.79" stroke="#161616" stroke-width="0.7" transform="rotate(154.19 656.06 175.59)"/>
<rect x="649.87" y="178.24" width="21" height="6.4" rx="3.2" fill="#fff" stroke="#161616" stroke-width="1.75" transform="rotate(160.69 660.37 181.44)"/>
<line x1="654.37" y1="182.64" x2="666.37" y2="182.64" stroke="#161616" stroke-width="0.7" transform="rotate(160.69 660.37 181.44)"/>
<rect x="653.5" y="184.54" width="21" height="6.4" rx="3.2" fill="#fff" stroke="#161616" stroke-width="1.75" transform="rotate(167.3 664 187.74)"/>
<line x1="658" y1="188.94" x2="670" y2="188.94" stroke="#161616" stroke-width="0.7" transform="rotate(167.3 664 187.74)"/>
<rect x="656.37" y="191.22" width="21" height="6.4" rx="3.2" fill="#fff" stroke="#161616" stroke-width="1.75" transform="rotate(174.01 666.87 194.42)"/>
<line x1="660.87" y1="195.62" x2="672.87" y2="195.62" stroke="#161616" stroke-width="0.7" transform="rotate(174.01 666.87 194.42)"/>
<rect x="658.43" y="198.19" width="21" height="6.4" rx="3.2" fill="#fff" stroke="#161616" stroke-width="1.75" transform="rotate(180.79 668.93 201.39)"/>
<line x1="662.93" y1="202.59" x2="674.93" y2="202.59" stroke="#161616" stroke-width="0.7" transform="rotate(180.79 668.93 201.39)"/>
<rect x="659.65" y="205.35" width="21" height="6.4" rx="3.2" fill="#fff" stroke="#161616" stroke-width="1.75" transform="rotate(187.63 670.15 208.55)"/>
<line x1="664.15" y1="209.75" x2="676.15" y2="209.75" stroke="#161616" stroke-width="0.7" transform="rotate(187.63 670.15 208.55)"/>
<rect x="660" y="212.61" width="21" height="6.4" rx="3.2" fill="#fff" stroke="#161616" stroke-width="1.75" transform="rotate(194 670.5 215.81)"/>
<line x1="664.5" y1="217.01" x2="676.5" y2="217.01" stroke="#161616" stroke-width="0.7" transform="rotate(194 670.5 215.81)"/>
<rect x="660" y="219.89" width="21" height="6.4" rx="3.2" fill="#fff" stroke="#161616" stroke-width="1.75" transform="rotate(194 670.5 223.09)"/>
<line x1="664.5" y1="224.29" x2="676.5" y2="224.29" stroke="#161616" stroke-width="0.7" transform="rotate(194 670.5 223.09)"/>
<rect x="660" y="227.16" width="21" height="6.4" rx="3.2" fill="#fff" stroke="#161616" stroke-width="1.75" transform="rotate(194 670.5 230.36)"/>
<line x1="664.5" y1="231.56" x2="676.5" y2="231.56" stroke="#161616" stroke-width="0.7" transform="rotate(194 670.5 230.36)"/>
<rect x="660" y="234.43" width="21" height="6.4" rx="3.2" fill="#fff" stroke="#161616" stroke-width="1.75" transform="rotate(194 670.5 237.63)"/>
<line x1="664.5" y1="238.83" x2="676.5" y2="238.83" stroke="#161616" stroke-width="0.7" transform="rotate(194 670.5 237.63)"/>
<rect x="660" y="241.71" width="21" height="6.4" rx="3.2" fill="#fff" stroke="#161616" stroke-width="1.75" transform="rotate(194 670.5 244.91)"/>
<line x1="664.5" y1="246.11" x2="676.5" y2="246.11" stroke="#161616" stroke-width="0.7" transform="rotate(194 670.5 244.91)"/>
<rect x="660" y="248.98" width="21" height="6.4" rx="3.2" fill="#fff" stroke="#161616" stroke-width="1.75" transform="rotate(194 670.5 252.18)"/>
<line x1="664.5" y1="253.38" x2="676.5" y2="253.38" stroke="#161616" stroke-width="0.7" transform="rotate(194 670.5 252.18)"/>
<rect x="660" y="256.25" width="21" height="6.4" rx="3.2" fill="#fff" stroke="#161616" stroke-width="1.75" transform="rotate(194 670.5 259.45)"/>
<line x1="664.5" y1="260.65" x2="676.5" y2="260.65" stroke="#161616" stroke-width="0.7" transform="rotate(194 670.5 259.45)"/>
<rect x="660" y="263.53" width="21" height="6.4" rx="3.2" fill="#fff" stroke="#161616" stroke-width="1.75" transform="rotate(194 670.5 266.73)"/>
<line x1="664.5" y1="267.93" x2="676.5" y2="267.93" stroke="#161616" stroke-width="0.7" transform="rotate(194 670.5 266.73)"/>
<rect x="660" y="270.8" width="21" height="6.4" rx="3.2" fill="#fff" stroke="#161616" stroke-width="1.75" transform="rotate(194 670.5 274)"/>
<line x1="664.5" y1="275.2" x2="676.5" y2="275.2" stroke="#161616" stroke-width="0.7" transform="rotate(194 670.5 274)"/>
<rect x="524.5" y="236" width="7.5" height="61" rx="0" stroke="#161616" stroke-width="1.5" fill="#fff" />
<rect x="525" y="297" width="7" height="7" rx="0" stroke="#161616" stroke-width="1.3" fill="#fff" />
<line x1="527.3" y1="297" x2="527.3" y2="304" stroke="#161616" stroke-width="1.1" />
<line x1="529.7" y1="297" x2="529.7" y2="304" stroke="#161616" stroke-width="1.1" />
<rect x="520.5" y="304" width="18.5" height="19" rx="1.5" stroke="#161616" stroke-width="1.8" fill="#fff" />
<rect x="520.5" y="323" width="17.5" height="53.5" rx="0" stroke="#161616" stroke-width="1.6" fill="#fff" />
<line x1="520.5" y1="323" x2="538" y2="323" stroke="#161616" stroke-width="2.4" />
<line x1="520.5" y1="376.5" x2="538" y2="376.5" stroke="#161616" stroke-width="2.2" />
<line x1="528.2" y1="304" x2="528.2" y2="323" stroke="#161616" stroke-width="1.2" />
<line x1="528.2" y1="325" x2="528.2" y2="376" stroke="#161616" stroke-width="1.2" stroke-dasharray="7 3 1.5 3"/>
<polyline points="538,341.5 545.5,341.5 545.5,359.5 538,359.5" stroke="#161616" stroke-width="1.8" fill="none" stroke-linejoin="round" />
<path d="M656.8,323.5 L656.8,279.5 Q656.8,277.6 658.8,277.6 L682.6,277.6 Q684.6,277.6 684.6,279.5 L684.6,323.5" stroke="#161616" stroke-width="1.6" fill="#fff" />
<line x1="656.8" y1="323.5" x2="656.8" y2="360" stroke="#161616" stroke-width="1.6" />
<line x1="684.6" y1="323.5" x2="684.6" y2="360" stroke="#161616" stroke-width="1.6" />
<line x1="656.8" y1="325.2" x2="684.6" y2="325.2" stroke="#161616" stroke-width="1.5" />
<line x1="657" y1="360" x2="684.5" y2="360" stroke="#161616" stroke-width="1.5" />
<path d="M657.6,360 Q656.5,385 654.4,410.4" stroke="#161616" stroke-width="1.6" fill="none" />
<path d="M684.4,360 Q685.5,385 687.6,410.4" stroke="#161616" stroke-width="1.6" fill="none" />
<line x1="654.4" y1="410.4" x2="687.6" y2="410.4" stroke="#161616" stroke-width="1.5" />
<line x1="653.6" y1="410.4" x2="653.6" y2="483.5" stroke="#161616" stroke-width="1.6" />
<line x1="688" y1="410.4" x2="688" y2="483.5" stroke="#161616" stroke-width="1.6" />
<line x1="670.8" y1="321" x2="670.8" y2="484" stroke="#161616" stroke-width="1.2" stroke-dasharray="10 3 2 3"/>
<path d="M655,308.7 L540,308.7 A5.15,5.15 0 0 0 540,319 L655,319 A5.15,5.15 0 0 0 655,308.7 Z" stroke="#161616" stroke-width="1.6" fill="#fff" />
<line x1="650" y1="320.7" x2="716" y2="320.7" stroke="#262626" stroke-width="1.0" />
<circle cx="671.2" cy="432.8" r="15.4" stroke="#161616" stroke-width="1.6" fill="#fff"/>
<circle cx="671.2" cy="432.8" r="12.6" stroke="#161616" stroke-width="1.3" fill="none"/>
<line x1="652.6" y1="429.5" x2="652.6" y2="435.5" stroke="#161616" stroke-width="1.0" />
<line x1="689" y1="429.5" x2="689" y2="435.5" stroke="#161616" stroke-width="1.0" />
<path d="M640,394 L664.5,417 Q672,414.5 677.5,420 Q682,427 680,434.5 Q677,441 671.5,440.5 L632,401.6 Q630.5,399.5 632.5,397.8 L637.5,394 Q639,393.2 640,394 Z" stroke="#161616" stroke-width="1.6" fill="#fff" />
<path d="M665.5,418.5 Q673,419 675.5,426 Q677.5,433 673,439" stroke="#161616" stroke-width="1.2" fill="none" />
<text x="606" y="291.5" font-size="24.5" fill="#5a2e3a" stroke="#5a2e3a" stroke-width="0.7" text-anchor="start" textLength="36.5" lengthAdjust="spacingAndGlyphs">125</text>
<text x="581" y="374" font-size="24.5" fill="#5a2e3a" stroke="#5a2e3a" stroke-width="0.7" text-anchor="start" textLength="38" lengthAdjust="spacingAndGlyphs">255</text>
<text x="581" y="450.5" font-size="24.5" fill="#5a2e3a" stroke="#5a2e3a" stroke-width="0.7" text-anchor="start" textLength="45" lengthAdjust="spacingAndGlyphs">Ø55</text>
<line x1="591.25" y1="292.5" x2="591.25" y2="325" stroke="#262626" stroke-width="1.0" />
<line x1="670.8" y1="292" x2="670.8" y2="318" stroke="#161616" stroke-width="1.1" />
<line x1="591.25" y1="297" x2="670.8" y2="297" stroke="#262626" stroke-width="1.0" />
<path d="M591.25,297 L599.3,294.7 A2.3,2.3 0 0 1 599.3,299.3 Z" fill="#161616" stroke="#161616" stroke-width="0.4"/>
<path d="M670.8,297 L661.83,299.53 A2.53,2.53 0 0 1 661.83,294.47 Z" fill="#161616" stroke="#161616" stroke-width="0.4"/>
<line x1="528.5" y1="353.8" x2="670.8" y2="353.8" stroke="#262626" stroke-width="1.0" />
<line x1="670.8" y1="340" x2="670.8" y2="354" stroke="#161616" stroke-width="1.1" />
<path d="M528.5,353.8 L536.32,351.27 A2.53,2.53 0 0 1 536.32,356.33 Z" fill="#161616" stroke="#161616" stroke-width="0.4"/>
<path d="M670.8,353.8 L661.83,356.33 A2.53,2.53 0 0 1 661.83,351.27 Z" fill="#161616" stroke="#161616" stroke-width="0.4"/>
<line x1="607.5" y1="454.4" x2="688" y2="454.4" stroke="#262626" stroke-width="1.0" />
<path d="M653.6,454.4 L662.57,451.87 A2.53,2.53 0 0 1 662.57,456.93 Z" fill="#161616" stroke="#161616" stroke-width="0.4"/>
<path d="M688,454.4 L679.03,456.93 A2.53,2.53 0 0 1 679.03,451.87 Z" fill="#161616" stroke="#161616" stroke-width="0.4"/>
<rect x="616.8" y="484" width="107.7" height="24.8" rx="0" stroke="#161616" stroke-width="1.6" fill="url(#hatchR)" />
<rect x="657.5" y="485" width="25.5" height="23" fill="#fff"/>
<line x1="658.8" y1="484" x2="658.8" y2="508.8" stroke="#161616" stroke-width="2.4" />
<line x1="666.4" y1="484" x2="666.4" y2="508.8" stroke="#161616" stroke-width="1.5" />
<line x1="675.2" y1="484" x2="675.2" y2="508.8" stroke="#161616" stroke-width="1.5" />
<line x1="682.8" y1="484" x2="682.8" y2="508.8" stroke="#161616" stroke-width="1.5" />
<line x1="616.8" y1="484" x2="724.5" y2="484" stroke="#161616" stroke-width="1.6" />
<line x1="670.8" y1="484" x2="670.8" y2="491" stroke="#161616" stroke-width="1.2" />
<line x1="583.75" y1="508.8" x2="616.8" y2="508.8" stroke="#262626" stroke-width="1.0" />
<line x1="590.8" y1="458" x2="591" y2="575" stroke="#262626" stroke-width="1.0" />
<path d="M590.9,483.75 L588.37,475.93 A2.53,2.53 0 0 1 593.43,475.93 Z" fill="#161616" stroke="#161616" stroke-width="0.4"/>
<path d="M590.9,508.8 L593.43,516.62 A2.53,2.53 0 0 1 588.37,516.62 Z" fill="#161616" stroke="#161616" stroke-width="0.4"/>
<text x="502.5" y="549" font-size="24.5" fill="#5a2e3a" stroke="#5a2e3a" stroke-width="0.7" text-anchor="start" textLength="76" lengthAdjust="spacingAndGlyphs">Max68</text>
<path d="M655.3,509.5 L684.1,509.5 L684.1,514 Q681,512 679,513.5 L662,513.5 Q659,512 655.3,514 Z" stroke="#161616" stroke-width="1.6" fill="#fff" />
<line x1="659.8" y1="514" x2="659.8" y2="536.2" stroke="#161616" stroke-width="2.0" />
<line x1="666.4" y1="514" x2="666.4" y2="536.2" stroke="#161616" stroke-width="1.5" />
<line x1="674.8" y1="514" x2="674.8" y2="536.2" stroke="#161616" stroke-width="1.5" />
<line x1="681.4" y1="514" x2="681.4" y2="536.2" stroke="#161616" stroke-width="1.5" />
<line x1="631.25" y1="528.4" x2="796" y2="528.4" stroke="#262626" stroke-width="1.0" />
<path d="M658.5,528.4 L638.72,531.62 A3.22,3.22 0 0 1 638.72,525.18 Z" fill="#161616" stroke="#161616" stroke-width="0.4"/>
<path d="M682.3,528.4 L703.23,525.18 A3.22,3.22 0 0 1 703.23,531.62 Z" fill="#161616" stroke="#161616" stroke-width="0.4"/>
<line x1="721" y1="527.5" x2="721" y2="529.3" stroke="#161616" stroke-width="1.2" />
<line x1="764" y1="527.5" x2="764" y2="529.3" stroke="#161616" stroke-width="1.2" />
<text x="716" y="560" font-size="24.5" fill="#5a2e3a" stroke="#5a2e3a" stroke-width="0.7" text-anchor="start" textLength="114" lengthAdjust="spacingAndGlyphs">Ø 35 Ø-38</text>
<line x1="652" y1="536.2" x2="689.8" y2="536.2" stroke="#161616" stroke-width="1.7" />
<line x1="652" y1="546.4" x2="689.8" y2="546.4" stroke="#161616" stroke-width="1.7" />
<line x1="659.7" y1="546.5" x2="659.7" y2="615.5" stroke="#161616" stroke-width="1.2" />
<line x1="662.3" y1="546.5" x2="662.3" y2="615.5" stroke="#161616" stroke-width="1.2" />
<line x1="679.2" y1="546.5" x2="679.2" y2="615.5" stroke="#161616" stroke-width="1.2" />
<line x1="681.8" y1="546.5" x2="681.8" y2="615.5" stroke="#161616" stroke-width="1.2" />
<rect x="665.6" y="547" width="10.4" height="44.2" rx="0" stroke="#161616" stroke-width="1.5" fill="#fff" />
<rect x="667.5" y="549" width="6.5" height="7" rx="0" stroke="#161616" stroke-width="1.3" fill="#fff" />
<line x1="665.6" y1="557" x2="676" y2="557" stroke="#161616" stroke-width="1.4" />
<rect x="667.3" y="566" width="7" height="23" rx="0" stroke="#161616" stroke-width="1.2" fill="none" />
<line x1="670.8" y1="566" x2="670.8" y2="589" stroke="#161616" stroke-width="1.0" />
<rect x="663.6" y="591.2" width="14.3" height="5.2" rx="2.2" stroke="#161616" stroke-width="1.6" fill="#fff" />
<line x1="666.9" y1="596.4" x2="666.9" y2="614.6" stroke="#161616" stroke-width="1.0" />
<line x1="674.7" y1="596.4" x2="674.7" y2="614.6" stroke="#161616" stroke-width="1.0" />
<line x1="669.5" y1="596.4" x2="669.5" y2="658.5" stroke="#161616" stroke-width="1.2" />
<line x1="672.7" y1="596.4" x2="672.7" y2="658.5" stroke="#161616" stroke-width="1.2" />
<rect x="659" y="615.5" width="8.5" height="10.8" rx="0" stroke="#161616" stroke-width="1.5" fill="#fff" />
<line x1="659.5" y1="618.5" x2="667" y2="618.5" stroke="#161616" stroke-width="1.3" />
<line x1="659.5" y1="621.5" x2="667" y2="621.5" stroke="#161616" stroke-width="1.3" />
<line x1="659.5" y1="624.5" x2="667" y2="624.5" stroke="#161616" stroke-width="1.3" />
<rect x="658.4" y="626.3" width="9.8" height="7.8" rx="1.5" stroke="#161616" stroke-width="1.6" fill="#fff" />
<line x1="663.3" y1="626.3" x2="663.3" y2="634.1" stroke="#161616" stroke-width="1.2" />
<rect x="660.4" y="634.1" width="5.8" height="6.5" rx="0" stroke="#161616" stroke-width="1.3" fill="#fff" />
<rect x="674" y="615.5" width="9" height="10.8" rx="0" stroke="#161616" stroke-width="1.5" fill="#fff" />
<line x1="674.5" y1="618.5" x2="682.5" y2="618.5" stroke="#161616" stroke-width="1.3" />
<line x1="674.5" y1="621.5" x2="682.5" y2="621.5" stroke="#161616" stroke-width="1.3" />
<line x1="674.5" y1="624.5" x2="682.5" y2="624.5" stroke="#161616" stroke-width="1.3" />
<rect x="673.6" y="626.3" width="9.8" height="7.8" rx="1.5" stroke="#161616" stroke-width="1.6" fill="#fff" />
<line x1="678.5" y1="626.3" x2="678.5" y2="634.1" stroke="#161616" stroke-width="1.2" />
<rect x="666.5" y="658.2" width="9" height="5.8" rx="0" stroke="#161616" stroke-width="1.6" fill="#fff" />
<line x1="667" y1="661" x2="675" y2="661" stroke="#161616" stroke-width="1.2" />
<rect x="666.5" y="664" width="9" height="11" rx="0" stroke="#161616" stroke-width="1.5" fill="#fff" />
<line x1="667" y1="669.5" x2="675" y2="669.5" stroke="#161616" stroke-width="1.0" />
<rect x="665.6" y="674.5" width="11" height="4.5" rx="1.5" stroke="#161616" stroke-width="1.6" fill="#fff" />
<rect x="667.5" y="679" width="7" height="1.5" rx="0" stroke="#161616" stroke-width="1.1" fill="#fff" />
<path d="M613.75,657.5 L616,657.5 L651,634.5" stroke="#161616" stroke-width="1.0" fill="none" />
<path d="M657.8,630.9 L652.88,637.3 A2.76,2.76 0 0 1 649.91,632.65 Z" fill="#161616" stroke="#161616" stroke-width="0.4"/>
<text x="495" y="687.5" font-size="24.5" fill="#5a2e3a" stroke="#5a2e3a" stroke-width="0.7" text-anchor="start" textLength="147.5" lengthAdjust="spacingAndGlyphs">9/16-24-UNEF</text>
<polyline points="728.5,828 728.5,655 737.5,638.75 850,638.75 861.25,655 861.25,828" stroke="#161616" stroke-width="1.7" fill="none" stroke-linejoin="round" />
<line x1="728.5" y1="655" x2="861.25" y2="655" stroke="#161616" stroke-width="1.7" />
<line x1="743.75" y1="638.75" x2="738.75" y2="655" stroke="#161616" stroke-width="1.5" />
<line x1="846.25" y1="638.75" x2="852.5" y2="655" stroke="#161616" stroke-width="1.5" />
<line x1="738.75" y1="655" x2="738.75" y2="828" stroke="#161616" stroke-width="1.5" />
<line x1="851.25" y1="655" x2="851.25" y2="828" stroke="#161616" stroke-width="1.5" />
<rect x="786.25" y="639" width="17.5" height="16" fill="#161616"/>
<ellipse cx="748" cy="837.6" rx="6.5" ry="1.6" stroke="#161616" stroke-width="0" fill="#161616"/>
<ellipse cx="841.5" cy="837.6" rx="6.5" ry="1.6" stroke="#161616" stroke-width="0" fill="#161616"/>
<rect x="733.75" y="828" width="121.25" height="9.2" rx="1.8" stroke="#161616" stroke-width="1.7" fill="#fff" />
<line x1="728.5" y1="828" x2="861.25" y2="828" stroke="#161616" stroke-width="1.7" />
<line x1="733.75" y1="830.3" x2="855" y2="830.3" stroke="#161616" stroke-width="1.2" />
<line x1="740.4" y1="828.5" x2="740.4" y2="837" stroke="#161616" stroke-width="1.4" />
<line x1="848.6" y1="828.5" x2="848.6" y2="837" stroke="#161616" stroke-width="1.4" />
<path d="M838.2,638.75 Q839.0,634.55 840.7,633.75 L846.3,633.75 Q848.0,634.55 848.8,638.75 Z" stroke="#161616" stroke-width="1.0" fill="#161616" />
<rect x="840.3" y="621.75" width="6.4" height="12" rx="0" stroke="#161616" stroke-width="0" fill="#161616" />
<rect x="841.7" y="623.55" width="3.6" height="1.3" fill="#eee"/>
<rect x="841.7" y="626.35" width="3.6" height="1.3" fill="#eee"/>
<rect x="841.7" y="629.15" width="3.6" height="1.3" fill="#eee"/>
<rect x="839.4" y="620.15" width="8.2" height="2" rx="0.8" stroke="#161616" stroke-width="0" fill="#161616" />
<line x1="919.6" y1="564" x2="919.6" y2="760" stroke="#161616" stroke-width="1.4" />
<line x1="926.6" y1="564" x2="926.6" y2="760" stroke="#161616" stroke-width="1.4" />
<path d="M919.5,760 C919.5,800 900,818.5 866,818.5 L862,818.5" stroke="#161616" stroke-width="1.4" fill="none" />
<path d="M927,760 C927,808 903,825.5 866,825.5 L862,825.5" stroke="#161616" stroke-width="1.4" fill="none" />
<path d="M861.5,812 Q866,813 865,818 L865,824 L861.5,824 Z" stroke="#161616" stroke-width="1" fill="#161616" />
<rect x="920.3" y="518.6" width="5.2" height="12.4" rx="2.4" stroke="#161616" stroke-width="1.5" fill="#fff" />
<line x1="920.8" y1="522.5" x2="925" y2="522.5" stroke="#161616" stroke-width="1.2" />
<rect x="928.3" y="515.8" width="4.2" height="15.2" rx="2" stroke="#161616" stroke-width="1.5" fill="#fff" />
<rect x="917.8" y="530.2" width="10.2" height="34.3" rx="0.8" stroke="#161616" stroke-width="1.8" fill="#fff" />
<line x1="917.8" y1="545.6" x2="928" y2="545.6" stroke="#161616" stroke-width="1.5" />
<line x1="917.8" y1="554.2" x2="928" y2="554.2" stroke="#161616" stroke-width="1.6" />
<rect x="918.5" y="555" width="8.8" height="8.5" fill="#222"/>
<rect x="920" y="560.5" width="5.5" height="2" fill="#eee"/>
<path d="M922,557 L924,557 L923,559 Z" stroke="#161616" stroke-width="0.5" fill="#ddd" />
<path d="M928,530.2 L935.3,530.2 L935.3,541.4 L928,549.8" stroke="#161616" stroke-width="1.6" fill="#fff" />
<line x1="928" y1="541.4" x2="935.3" y2="541.4" stroke="#161616" stroke-width="1.3" />
<line x1="930.2" y1="531" x2="930.2" y2="541" stroke="#161616" stroke-width="1.1" />
<line x1="861.25" y1="591.25" x2="912" y2="581.5" stroke="#161616" stroke-width="1.0" />
<path d="M920,580 L913.06,584.14 A2.76,2.76 0 0 1 912.03,578.72 Z" fill="#161616" stroke="#161616" stroke-width="0.4"/>
<text x="786" y="606" font-size="24.5" fill="#5a2e3a" stroke="#5a2e3a" stroke-width="0.7" text-anchor="start" textLength="49" lengthAdjust="spacingAndGlyphs">1600</text>
<line x1="728.5" y1="831" x2="728.5" y2="868.75" stroke="#262626" stroke-width="1.0" />
<line x1="861.25" y1="831" x2="861.25" y2="868.75" stroke="#262626" stroke-width="1.0" />
<line x1="728.5" y1="863.75" x2="861.25" y2="863.75" stroke="#262626" stroke-width="1.0" />
<path d="M728.5,863.75 L737.47,861.22 A2.53,2.53 0 0 1 737.47,866.28 Z" fill="#161616" stroke="#161616" stroke-width="0.4"/>
<path d="M861.25,863.75 L852.28,866.28 A2.53,2.53 0 0 1 852.28,861.22 Z" fill="#161616" stroke="#161616" stroke-width="0.4"/>
<text x="768.75" y="899" font-size="24.5" fill="#5a2e3a" stroke="#5a2e3a" stroke-width="0.7" text-anchor="start" textLength="36.5" lengthAdjust="spacingAndGlyphs">210</text>
</svg></body></html>
